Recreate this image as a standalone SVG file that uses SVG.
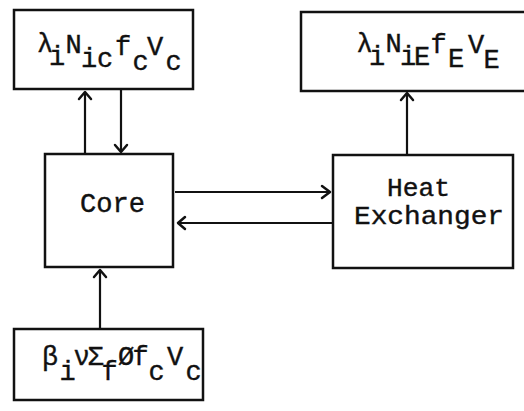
<svg xmlns="http://www.w3.org/2000/svg" width="524" height="411" viewBox="0 0 524 411">
<defs>
<style>
.box{fill:none;stroke:#111;stroke-width:2.5}
.ln{fill:none;stroke:#111;stroke-width:2.2}
.hd{fill:none;stroke:#111;stroke-width:2.5;stroke-linecap:round;stroke-linejoin:round}
.t{font-family:"Liberation Mono","DejaVu Sans Mono",monospace;fill:#111;stroke:#111;stroke-width:0.4}
.f{font-size:27px;text-anchor:middle}
.lab{font-size:26px}
</style>
</defs>
<rect width="524" height="411" fill="#fff"/>
<g id="node-top-left">
<rect class="box" x="14" y="10" width="179" height="79"/>
<text class="t f" x="45 57 73.5 89 105 123 140.5 155 173.5" y="52 65 53 67 67 55 70 55 70">λiNicfcVc</text>
</g>
<g id="node-top-right">
<rect class="box" x="301" y="12" width="240" height="79"/>
<text class="t f" x="364.5 377 393.5 408 422 438.5 456 476 491.5" y="52 65 52 65 65 53 67 53 68">λiNiEfEVE</text>
</g>
<g id="node-core">
<rect class="box" x="45" y="154" width="128" height="113"/>
<text class="t lab" x="80" y="212" textLength="65" lengthAdjust="spacingAndGlyphs" style="font-size:27px">Core</text>
</g>
<g id="node-heat-exchanger">
<rect class="box" x="333" y="155" width="180" height="113"/>
<text class="t lab" x="387" y="196" textLength="63" lengthAdjust="spacingAndGlyphs">Heat</text>
<text class="t lab" x="354" y="224" textLength="150" lengthAdjust="spacingAndGlyphs">Exchanger</text>
</g>
<g id="node-bottom">
<rect class="box" x="14" y="329" width="189" height="71"/>
<text class="t f" x="50 67.5 81.5 95.5 109.5 126 140.5 156.5 175 193.5" y="365 380 365 365 380 365 365 380 365 380">βiνΣfØfcVc</text>
</g>
<g id="connectors">
<line class="ln" x1="85" y1="154" x2="85" y2="92"/>
<polyline class="hd" points="79,99 85,92 91,99"/>
<line class="ln" x1="121" y1="90" x2="121" y2="152"/>
<polyline class="hd" points="115,145 121,152 127,145"/>
<line class="ln" x1="407" y1="155" x2="407" y2="93"/>
<polyline class="hd" points="401,100 407,93 413,100"/>
<line class="ln" x1="175" y1="192" x2="330" y2="192"/>
<polyline class="hd" points="322,186 330,192 322,198"/>
<line class="ln" x1="333" y1="223" x2="178" y2="223"/>
<polyline class="hd" points="185,217 178,223 185,229"/>
<line class="ln" x1="100" y1="329" x2="100" y2="270"/>
<polyline class="hd" points="94,277 100,270 106,277"/>
</g>
</svg>
